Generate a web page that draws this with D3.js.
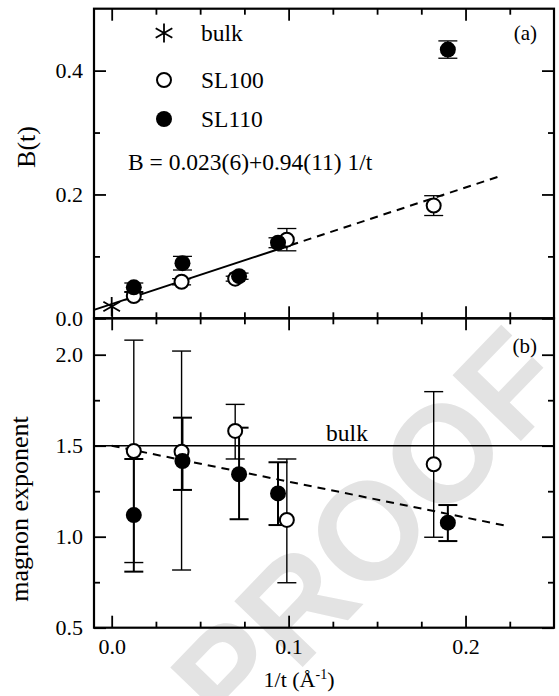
<!DOCTYPE html>
<html>
<head>
<meta charset="utf-8">
<script src="https://cdn.jsdelivr.net/npm/d3@7"></script>
<style>
    body { margin: 0; background: #fff; }
    svg { display: block; font-family: "Liberation Serif", "Times New Roman", serif; }
</style>
</head>
<body>
<div id="chart"></div>
<script>
// 1/t positions of the two superlattice series
const xOpen = [0.0125, 0.0395, 0.0698, 0.0990, 0.182];
const xFilled = [0.0125, 0.0400, 0.0720, 0.0940, 0.190];

// panel (a): B(t)
const bOpen = [0.036, 0.059, 0.064, 0.127, 0.182];
const bOpenErr = [0.006, 0.005, 0.004, 0.018, 0.016];
const bFilled = [0.050, 0.089, 0.068, 0.122, 0.434];
const bFilledErr = [0.007, 0.011, 0.005, 0.008, 0.014];
const bulkX = 0.0;
const bulkB = 0.019;
const fitSolid = [[-0.01, 0.0136], [0.101, 0.118]];
const fitDashed = [[0.101, 0.118], [0.22, 0.230]];
const fitText = "B = 0.023(6)+0.94(11) 1/t";

// panel (b): magnon exponent
const expOpen = [1.471, 1.467, 1.581, 1.092, 1.398];
const expOpenLo = [0.858, 0.817, 1.427, 0.747, 0.997];
const expOpenHi = [2.080, 2.020, 1.727, 1.427, 1.797];
const expFilled = [1.119, 1.416, 1.343, 1.238, 1.077];
const expFilledLo = [0.808, 1.257, 1.096, 1.064, 0.976];
const expFilledHi = [1.427, 1.654, 1.599, 1.409, 1.174];
const bulkExp = 1.5;
const expTrend = [[0.0, 1.5], [0.223, 1.06]];

// ticks
const xMajor = [0.0, 0.1, 0.2];
const xMinor = [0.025, 0.05, 0.075, 0.125, 0.15, 0.175, 0.225];
const yaMajor = [0.0, 0.2, 0.4];
const yaMinor = [0.1, 0.3];
const ybMajor = [0.5, 1.0, 1.5, 2.0];
const ybMinor = [0.75, 1.25, 1.75];

const legendItems = ["bulk", "SL100", "SL110"];

(function () {
    const W = 559, H = 696;
    const left = 94, right = 554, top = 8.7, mid = 318.3, bottom = 627.7;
    const serif = "'Liberation Serif', 'Times New Roman', serif";

    const svg = d3.select("#chart").append("svg").attr("width", W).attr("height", H);

    // watermark behind everything
    svg.append("text")
        .attr("transform", "translate(368,530) rotate(-46)")
        .attr("text-anchor", "middle")
        .attr("dy", "0.35em")
        .style("font-family", "'Liberation Sans', Arial, sans-serif")
        .style("font-weight", "bold")
        .style("font-size", "138px")
        .attr("fill", "#e3e3e3")
        .text("PROOF");

    const xScale = d3.scaleLinear().domain([-0.01, 0.25]).range([left, right]);
    const yA = d3.scaleLinear().domain([0, 0.5]).range([mid, top]);
    const yB = d3.scaleLinear().domain([0.5, 2.2]).range([bottom, mid]);

    function drawAxes(yScale, yMajor, yMinor, y0, y1, showX) {
        const fmt = d3.format(".1f");
        const g = svg.append("g").attr("class", "axes");
        const major = 12, minor = 6;

        const axes = [
            [d3.axisBottom(xScale).tickValues(xMajor).tickSize(-major), `translate(0,${y1})`, showX],
            [d3.axisBottom(xScale).tickValues(xMinor).tickSize(-minor), `translate(0,${y1})`, false],
            [d3.axisTop(xScale).tickValues(xMajor).tickSize(-major), `translate(0,${y0})`, false],
            [d3.axisTop(xScale).tickValues(xMinor).tickSize(-minor), `translate(0,${y0})`, false],
            [d3.axisLeft(yScale).tickValues(yMajor).tickSize(-major), `translate(${left},0)`, true],
            [d3.axisLeft(yScale).tickValues(yMinor).tickSize(-minor), `translate(${left},0)`, false],
            [d3.axisRight(yScale).tickValues(yMajor).tickSize(-major), `translate(${right},0)`, false],
            [d3.axisRight(yScale).tickValues(yMinor).tickSize(-minor), `translate(${right},0)`, false]
        ];
        axes.forEach(([axis, tr, labels]) => {
            axis.tickSizeOuter(0).tickPadding(labels ? 11 : 0).tickFormat(labels ? fmt : "");
            const a = g.append("g").attr("transform", tr).call(axis);
            a.select(".domain").remove();
            a.selectAll(".tick line").attr("stroke", "#000").attr("stroke-width", 1.8);
            a.selectAll(".tick text")
                .attr("fill", "#000")
                .style("font-family", serif)
                .style("font-size", "22px");
        });
        g.append("rect")
            .attr("x", left).attr("y", y0)
            .attr("width", right - left).attr("height", y1 - y0)
            .attr("fill", "none").attr("stroke", "#000").attr("stroke-width", 2.2);
    }

    const line = ys => d3.line().x(d => xScale(d[0])).y(d => ys(d[1]));

    // ---------- panel (a) ----------
    drawAxes(yA, yaMajor, yaMinor, top, mid, false);
    const pa = svg.append("g").style("font-family", serif);

    pa.append("path").datum(fitSolid).attr("d", line(yA))
        .attr("fill", "none").attr("stroke", "#000").attr("stroke-width", 2);
    pa.append("path").datum(fitDashed).attr("d", line(yA))
        .attr("fill", "none").attr("stroke", "#000").attr("stroke-width", 2)
        .attr("stroke-dasharray", "8,6");

    function errBars(g, xs, lo, hi, ys, sw) {
        const cap = 9.5;
        xs.forEach((x, i) => {
            const cx = xScale(x), y1 = ys(lo[i]), y2 = ys(hi[i]);
            g.append("line").attr("x1", cx).attr("x2", cx).attr("y1", y1).attr("y2", y2)
                .attr("stroke", "#000").attr("stroke-width", sw);
            [y1, y2].forEach(y => g.append("line")
                .attr("x1", cx - cap).attr("x2", cx + cap).attr("y1", y).attr("y2", y)
                .attr("stroke", "#000").attr("stroke-width", sw));
        });
    }

    errBars(pa, xOpen, bOpen.map((v, i) => v - bOpenErr[i]), bOpen.map((v, i) => v + bOpenErr[i]), yA, 1.3);
    errBars(pa, xFilled, bFilled.map((v, i) => v - bFilledErr[i]), bFilled.map((v, i) => v + bFilledErr[i]), yA, 1.3);

    function openMarks(g, xs, vs, ys) {
        g.selectAll(null).data(xs).enter().append("circle")
            .attr("cx", d => xScale(d)).attr("cy", (d, i) => ys(vs[i])).attr("r", 7)
            .attr("fill", "#fff").attr("stroke", "#000").attr("stroke-width", 2);
    }
    function filledMarks(g, xs, vs, ys) {
        g.selectAll(null).data(xs).enter().append("circle")
            .attr("cx", d => xScale(d)).attr("cy", (d, i) => ys(vs[i])).attr("r", 8)
            .attr("fill", "#000");
    }
    const star = d3.symbol().type(d3.symbolAsterisk).size(260);

    openMarks(pa, xOpen, bOpen, yA);
    filledMarks(pa, xFilled, bFilled, yA);
    pa.append("path").attr("d", star())
        .attr("transform", `translate(${xScale(bulkX)},${yA(bulkB)})`)
        .attr("fill", "none").attr("stroke", "#000").attr("stroke-width", 1.8);

    // legend
    const lx = 164, ly = [33, 80, 119];
    pa.append("path").attr("d", star()).attr("transform", `translate(${lx},${ly[0]})`)
        .attr("fill", "none").attr("stroke", "#000").attr("stroke-width", 1.8);
    pa.append("circle").attr("cx", lx).attr("cy", ly[1]).attr("r", 7)
        .attr("fill", "#fff").attr("stroke", "#000").attr("stroke-width", 2);
    pa.append("circle").attr("cx", lx).attr("cy", ly[2]).attr("r", 8).attr("fill", "#000");
    legendItems.forEach((t, i) => pa.append("text")
        .attr("x", 201).attr("y", ly[i] + 8)
        .style("font-size", "23.5px").text(t));

    pa.append("text").attr("x", 128).attr("y", 170).style("font-size", "23.5px").text(fitText);
    pa.append("text").attr("x", 537).attr("y", 40).attr("text-anchor", "end")
        .style("font-size", "21px").text("(a)");

    pa.append("text")
        .attr("transform", "translate(35,147) rotate(-90)")
        .attr("text-anchor", "middle")
        .style("font-size", "26px").text("B(t)");

    // ---------- panel (b) ----------
    drawAxes(yB, ybMajor, ybMinor, mid, bottom, true);
    const pb = svg.append("g").style("font-family", serif);

    pb.append("line")
        .attr("x1", left).attr("x2", right)
        .attr("y1", yB(bulkExp)).attr("y2", yB(bulkExp))
        .attr("stroke", "#000").attr("stroke-width", 1.5);
    pb.append("path").datum(expTrend).attr("d", line(yB))
        .attr("fill", "none").attr("stroke", "#000").attr("stroke-width", 2)
        .attr("stroke-dasharray", "8,6");

    errBars(pb, xOpen, expOpenLo, expOpenHi, yB, 1.4);
    errBars(pb, xFilled, expFilledLo, expFilledHi, yB, 2);
    openMarks(pb, xOpen, expOpen, yB);
    filledMarks(pb, xFilled, expFilled, yB);

    pb.append("text").attr("x", 347).attr("y", 441).attr("text-anchor", "middle")
        .style("font-size", "23.5px").text("bulk");
    pb.append("text").attr("x", 537).attr("y", 353).attr("text-anchor", "end")
        .style("font-size", "21px").text("(b)");

    pb.append("text")
        .attr("transform", "translate(28,509) rotate(-90)")
        .attr("text-anchor", "middle")
        .style("font-size", "26px").text("magnon exponent");

    const xl = pb.append("text").attr("x", 299).attr("y", 687).attr("text-anchor", "middle")
        .style("font-size", "22px");
    xl.append("tspan").text("1/t (Å");
    xl.append("tspan").attr("dy", -8).style("font-size", "14px").text("-1");
    xl.append("tspan").attr("dy", 8).text(")");
})();
</script>
</body>
</html>
